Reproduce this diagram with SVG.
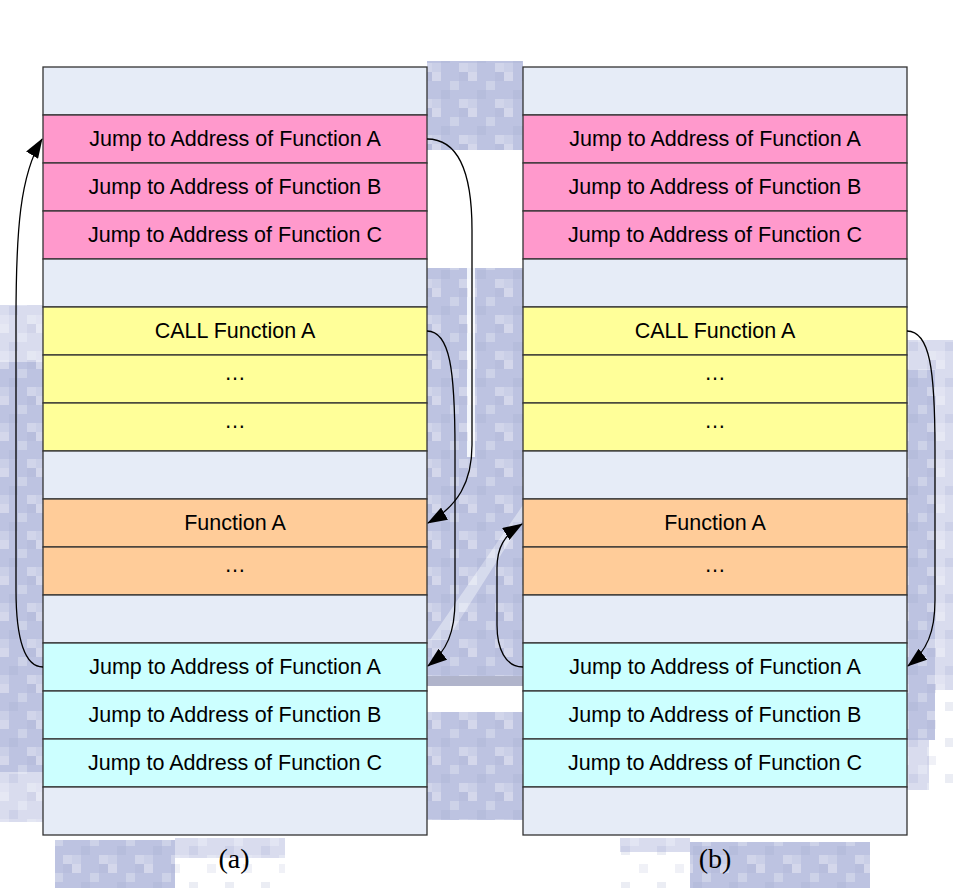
<svg xmlns="http://www.w3.org/2000/svg" width="953" height="888" viewBox="0 0 953 888">
  <defs>
    <style>
      .cell { stroke: #333333; stroke-width: 1.3; }
      .blank { fill: #e6ecf7; }
      .pink { fill: #ff99cc; }
      .yellow { fill: #ffff99; }
      .orange { fill: #ffcc99; }
      .cyan { fill: #ccffff; }
      .lbl { font-family: "Liberation Sans", Arial, sans-serif; font-size: 21.5px; fill: #000; text-anchor: middle; }
      .cap { font-family: "Liberation Serif", "Times New Roman", serif; font-size: 28px; fill: #000; text-anchor: middle; }
      .link { fill: none; stroke: #000; stroke-width: 1.3; marker-end: url(#head); }
      .wm { fill: #b2b9dc; }
      .wm-light { fill: #d3d7ec; }
      .wm-dark { fill: #a3a7c2; }
    </style>
    <marker id="head" markerUnits="userSpaceOnUse" markerWidth="20" markerHeight="14" refX="19" refY="7" orient="auto" viewBox="0 0 20 14">
      <path d="M0,0 L20,7 L0,14 z" fill="#000"/>
    </marker>
    <!-- coarse block texture for the faded background emblem -->
    <pattern id="px" width="36" height="36" patternUnits="userSpaceOnUse">
      <rect x="0" y="0" width="9" height="9" fill="#ffffff" opacity="0.35"/>
      <rect x="18" y="9" width="9" height="9" fill="#ffffff" opacity="0.25"/>
      <rect x="9" y="18" width="9" height="9" fill="#8c94c4" opacity="0.2"/>
      <rect x="27" y="27" width="9" height="9" fill="#ffffff" opacity="0.3"/>
      <rect x="27" y="0" width="9" height="9" fill="#8c94c4" opacity="0.15"/>
      <rect x="0" y="27" width="9" height="9" fill="#ffffff" opacity="0.2"/>
    </pattern>
  </defs>

  <rect x="0" y="0" width="953" height="888" fill="#ffffff"/>

  <!-- faded background emblem -->
  <g id="watermark" opacity="0.85">
    <rect class="wm" x="427" y="61" width="96" height="89"/>
    <rect class="wm" x="427" y="268" width="96" height="408"/>
    <rect x="467" y="268" width="8" height="189" fill="#f2f5fc"/>
    <polygon points="523,505 523,520 447,640 430,640" fill="#e4e7f5" opacity="0.6"/>
    <rect class="wm-dark" x="427" y="676" width="96" height="10"/>
    <rect class="wm" x="427" y="712" width="96" height="108"/>
    <rect class="wm-light" x="0" y="305" width="43" height="57"/>
    <rect class="wm" x="0" y="362" width="43" height="410"/>
    <rect class="wm-light" x="0" y="772" width="43" height="50"/>
    <rect class="wm-light" x="907" y="340" width="46" height="30"/>
    <rect class="wm" x="907" y="370" width="28" height="370"/>
    <rect class="wm-light" x="935" y="370" width="18" height="320"/>
    <rect class="wm-light" x="907" y="740" width="22" height="50"/>
    <rect class="wm" x="55" y="840" width="120" height="48"/>
    <rect class="wm-light" x="175" y="838" width="110" height="20"/>
    <rect class="wm" x="690" y="842" width="180" height="46"/>
    <rect class="wm-light" x="620" y="838" width="70" height="14"/>
    <g fill="url(#px)">
      <rect x="427" y="61" width="96" height="89"/>
      <rect x="427" y="268" width="96" height="408"/>
      <rect x="427" y="712" width="96" height="108"/>
      <rect x="0" y="305" width="43" height="517"/>
      <rect x="907" y="340" width="46" height="450"/>
      <rect x="55" y="838" width="230" height="50"/>
      <rect x="620" y="838" width="250" height="50"/>
    </g>
  </g>

  <!-- memory layout (a) -->
  <g id="column-a">
    <g id="a-r0"><rect class="cell blank" x="43" y="67" width="384" height="48"/></g>
    <g id="a-r1"><rect class="cell pink" x="43" y="115" width="384" height="48"/><text class="lbl" x="235" y="146">Jump to Address of Function A</text></g>
    <g id="a-r2"><rect class="cell pink" x="43" y="163" width="384" height="48"/><text class="lbl" x="235" y="194">Jump to Address of Function B</text></g>
    <g id="a-r3"><rect class="cell pink" x="43" y="211" width="384" height="48"/><text class="lbl" x="235" y="242">Jump to Address of Function C</text></g>
    <g id="a-r4"><rect class="cell blank" x="43" y="259" width="384" height="48"/></g>
    <g id="a-r5"><rect class="cell yellow" x="43" y="307" width="384" height="48"/><text class="lbl" x="235" y="338">CALL Function A</text></g>
    <g id="a-r6"><rect class="cell yellow" x="43" y="355" width="384" height="48"/><text class="lbl" x="235" y="380">…</text></g>
    <g id="a-r7"><rect class="cell yellow" x="43" y="403" width="384" height="48"/><text class="lbl" x="235" y="428">…</text></g>
    <g id="a-r8"><rect class="cell blank" x="43" y="451" width="384" height="48"/></g>
    <g id="a-r9"><rect class="cell orange" x="43" y="499" width="384" height="48"/><text class="lbl" x="235" y="530">Function A</text></g>
    <g id="a-r10"><rect class="cell orange" x="43" y="547" width="384" height="48"/><text class="lbl" x="235" y="572">…</text></g>
    <g id="a-r11"><rect class="cell blank" x="43" y="595" width="384" height="48"/></g>
    <g id="a-r12"><rect class="cell cyan" x="43" y="643" width="384" height="48"/><text class="lbl" x="235" y="674">Jump to Address of Function A</text></g>
    <g id="a-r13"><rect class="cell cyan" x="43" y="691" width="384" height="48"/><text class="lbl" x="235" y="722">Jump to Address of Function B</text></g>
    <g id="a-r14"><rect class="cell cyan" x="43" y="739" width="384" height="48"/><text class="lbl" x="235" y="770">Jump to Address of Function C</text></g>
    <g id="a-r15"><rect class="cell blank" x="43" y="787" width="384" height="48"/></g>
    <text class="cap" x="234" y="868">(a)</text>
  </g>

  <!-- memory layout (b) -->
  <g id="column-b">
    <g id="b-r0"><rect class="cell blank" x="523" y="67" width="384" height="48"/></g>
    <g id="b-r1"><rect class="cell pink" x="523" y="115" width="384" height="48"/><text class="lbl" x="715" y="146">Jump to Address of Function A</text></g>
    <g id="b-r2"><rect class="cell pink" x="523" y="163" width="384" height="48"/><text class="lbl" x="715" y="194">Jump to Address of Function B</text></g>
    <g id="b-r3"><rect class="cell pink" x="523" y="211" width="384" height="48"/><text class="lbl" x="715" y="242">Jump to Address of Function C</text></g>
    <g id="b-r4"><rect class="cell blank" x="523" y="259" width="384" height="48"/></g>
    <g id="b-r5"><rect class="cell yellow" x="523" y="307" width="384" height="48"/><text class="lbl" x="715" y="338">CALL Function A</text></g>
    <g id="b-r6"><rect class="cell yellow" x="523" y="355" width="384" height="48"/><text class="lbl" x="715" y="380">…</text></g>
    <g id="b-r7"><rect class="cell yellow" x="523" y="403" width="384" height="48"/><text class="lbl" x="715" y="428">…</text></g>
    <g id="b-r8"><rect class="cell blank" x="523" y="451" width="384" height="48"/></g>
    <g id="b-r9"><rect class="cell orange" x="523" y="499" width="384" height="48"/><text class="lbl" x="715" y="530">Function A</text></g>
    <g id="b-r10"><rect class="cell orange" x="523" y="547" width="384" height="48"/><text class="lbl" x="715" y="572">…</text></g>
    <g id="b-r11"><rect class="cell blank" x="523" y="595" width="384" height="48"/></g>
    <g id="b-r12"><rect class="cell cyan" x="523" y="643" width="384" height="48"/><text class="lbl" x="715" y="674">Jump to Address of Function A</text></g>
    <g id="b-r13"><rect class="cell cyan" x="523" y="691" width="384" height="48"/><text class="lbl" x="715" y="722">Jump to Address of Function B</text></g>
    <g id="b-r14"><rect class="cell cyan" x="523" y="739" width="384" height="48"/><text class="lbl" x="715" y="770">Jump to Address of Function C</text></g>
    <g id="b-r15"><rect class="cell blank" x="523" y="787" width="384" height="48"/></g>
    <text class="cap" x="715" y="868">(b)</text>
  </g>

  <!-- control-flow connectors -->
  <g id="connectors">
    <path id="a-jump-to-func" class="link" d="M427,139 C455,139 472,165 472,230 L472,445 C472,482 458,506 428,523"/>
    <path id="a-call" class="link" d="M427,331 C450,331 455,370 455,450 L455,600 C455,632 447,651 428,666"/>
    <path id="a-stub-back" class="link" d="M43,667 C25,667 16,640 16,590 L16,320 C16,230 20,175 42,139"/>
    <path id="b-call" class="link" d="M907,331 C930,331 935,370 935,450 L935,600 C935,632 927,651 908,666"/>
    <path id="b-stub-to-func" class="link" d="M523,667 C505,667 497,648 497,625 L497,568 C497,548 504,535 522,524"/>
  </g>
</svg>
